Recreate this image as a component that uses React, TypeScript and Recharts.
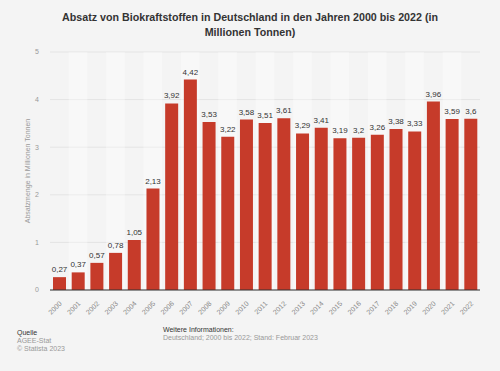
import React from "react";
import { BarChart, Bar, XAxis, YAxis, CartesianGrid, ReferenceArea, LabelList } from "recharts";

const years = ["2000","2001","2002","2003","2004","2005","2006","2007","2008","2009","2010","2011","2012","2013","2014","2015","2016","2017","2018","2019","2020","2021","2022"];
const values = [0.27,0.37,0.57,0.78,1.05,2.13,3.92,4.42,3.53,3.22,3.58,3.51,3.61,3.29,3.41,3.19,3.2,3.26,3.38,3.33,3.96,3.59,3.6];
const yTicks = [0, 1, 2, 3, 4, 5];

const data = years.map((y, i) => ({ year: y, value: values[i] }));
const stripeYears = years.filter((_, i) => i % 2 === 1);

const FONT = "'Liberation Sans', Arial, Helvetica, sans-serif";

const XTick = (props: any) => {
  const { x, y, payload } = props;
  return (
    <g transform={`translate(${x + 3},${y + 6})`}>
      <text x={0} y={0} textAnchor="end" fontSize={7} fill="#888" fontFamily={FONT} transform="rotate(-45)">
        {payload.value}
      </text>
    </g>
  );
};

export default function App() {
  return (
    <div style={{ position: "absolute", left: 0, top: 0, width: 500, height: 371, background: "#f4f4f4", fontFamily: FONT, overflow: "hidden" }}>
      <div style={{ position: "absolute", left: 0, top: 10, width: 500, textAlign: "center", fontWeight: "bold", fontSize: 10.7, lineHeight: "15px", color: "#333" }}>
        Absatz von Biokraftstoffen in Deutschland in den Jahren 2000 bis 2022 (in<br />Millionen Tonnen)
      </div>
      <div style={{ position: "absolute", left: 0, top: 0 }}>
        <BarChart width={500} height={371} data={data} margin={{ top: 52, right: 20, bottom: 51, left: 20 }} barSize={13}>
          {stripeYears.map((y) => (
            <ReferenceArea key={y} x1={y} x2={y} y1={0} y2={5} fill="#ffffff" fillOpacity={0.35} stroke="none" ifOverflow="visible" />
          ))}
          <CartesianGrid vertical={false} stroke="#e4e4e4" strokeWidth={1} />
          <XAxis
            dataKey="year"
            interval={0}
            height={30}
            tickLine={false}
            axisLine={{ stroke: "#333", strokeWidth: 1 }}
            tick={<XTick />}
          />
          <YAxis
            domain={[0, 5]}
            ticks={yTicks}
            width={30}
            axisLine={false}
            tickLine={false}
            tickSize={0}
            tickMargin={11}
            tick={{ fontSize: 7, fill: "#999", fontFamily: FONT }}
            label={{ value: "Absatzmenge in Millionen Tonnen", angle: -90, position: "insideLeft", offset: 8, style: { fontSize: 7, fill: "#999", fontFamily: FONT, textAnchor: "middle" } }}
          />
          <Bar dataKey="value" fill="#c63b2a" isAnimationActive={false}>
            <LabelList
              dataKey="value"
              position="top"
              offset={5}
              formatter={(v: any) => String(v).replace(".", ",")}
              style={{ fontSize: 8, fill: "#333", fontFamily: FONT }}
            />
          </Bar>
        </BarChart>
      </div>
      <div style={{ position: "absolute", left: 17, top: 329, fontSize: 7, lineHeight: "8px", color: "#333" }}>Quelle</div>
      <div style={{ position: "absolute", left: 17, top: 337, fontSize: 7, lineHeight: "8px", color: "#999" }}>AGEE-Stat</div>
      <div style={{ position: "absolute", left: 17, top: 345, fontSize: 7, lineHeight: "8px", color: "#999" }}>© Statista 2023</div>
      <div style={{ position: "absolute", left: 163, top: 326, fontSize: 7, lineHeight: "8px", color: "#333" }}>Weitere Informationen:</div>
      <div style={{ position: "absolute", left: 163, top: 334, fontSize: 7, lineHeight: "8px", color: "#999" }}>Deutschland; 2000 bis 2022; Stand: Februar 2023</div>
    </div>
  );
}
